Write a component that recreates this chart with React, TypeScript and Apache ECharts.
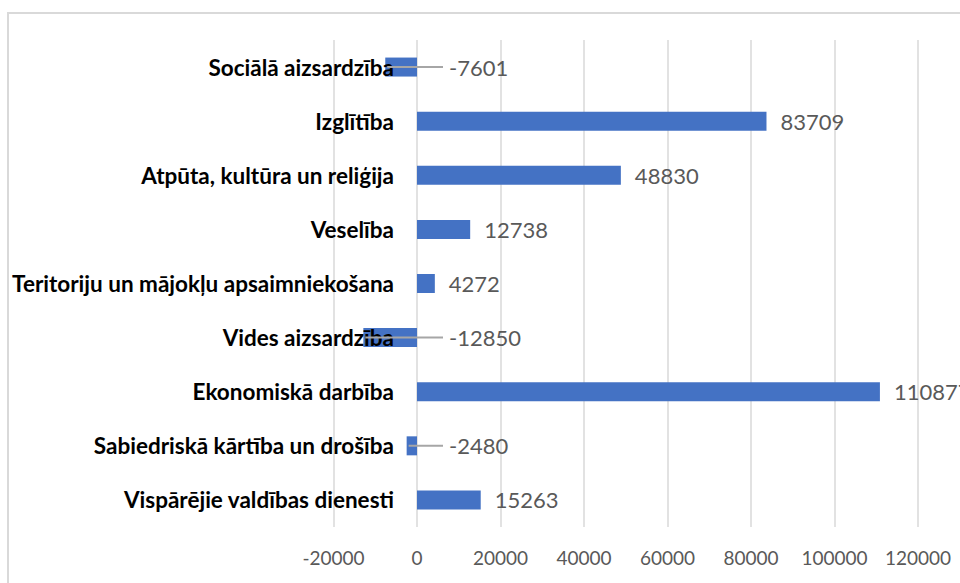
import React, { useEffect, useRef } from "react";
import * as echarts from "echarts";

const categories = [
  "Sociālā aizsardzība",
  "Izglītība",
  "Atpūta, kultūra un reliģija",
  "Veselība",
  "Teritoriju un mājokļu apsaimniekošana",
  "Vides aizsardzība",
  "Ekonomiskā darbība",
  "Sabiedriskā kārtība un drošība",
  "Vispārējie valdības dienesti",
];
const values = [-7601, 83709, 48830, 12738, 4272, -12850, 110877, -2480, 15263];
const axisMin = -20000;
const axisMax = 140000;
const axisStep = 20000;

const BAR_COLOR = "#4472C4";
const TEXT_GRAY = "#595959";
const GRID_GRAY = "#d9d9d9";

const GRID_LEFT = 333.5;
const GRID_WIDTH = 668;

export default function App() {
  const ref = useRef<HTMLDivElement>(null);
  useEffect(() => {
    if (!ref.current) return;
    const chart = echarts.init(ref.current, null, { renderer: "svg" });
    const negatives = values
      .map((v, i) => [v, i])
      .filter((d) => d[0] < 0);
    // distance from the grid's left edge to the value 0, so category labels sit next to zero
    const zeroOffset = ((0 - axisMin) / (axisMax - axisMin)) * GRID_WIDTH;
    chart.setOption({
      animation: false,
      backgroundColor: "#fff",
      graphic: [
        {
          type: "rect",
          shape: { x: 0, y: 0, width: 9, height: 583 },
          style: { fill: "#fff" },
          z: 100,
          silent: true,
        },
        {
          type: "rect",
          shape: { x: 8, y: 13, width: 1200, height: 1000 },
          style: { fill: "none", stroke: GRID_GRAY, lineWidth: 2 },
          z: 101,
          silent: true,
        },
      ],
      grid: {
        left: GRID_LEFT,
        top: 40,
        width: GRID_WIDTH,
        height: 487,
        containLabel: false,
        outerBoundsMode: "none",
      },
      xAxis: {
        type: "value",
        min: axisMin,
        max: axisMax,
        interval: axisStep,
        axisLine: { show: false },
        axisTick: { show: false },
        splitLine: { show: true, lineStyle: { color: GRID_GRAY, width: 1.5 } },
        axisLabel: {
          color: TEXT_GRAY,
          fontFamily: "Lato",
          fontSize: 19,
          margin: 21,
          showMaxLabel: false,
          formatter: (v: number) => String(v),
        },
      },
      yAxis: {
        type: "category",
        inverse: true,
        data: categories,
        z: 10,
        axisLine: { show: false },
        axisTick: { show: false },
        splitLine: { show: false },
        axisLabel: {
          color: "#000",
          fontFamily: "Lato",
          fontWeight: "bold",
          fontSize: 22.5,
          margin: 23 - zeroOffset,
        },
      },
      series: [
        {
          type: "bar",
          barWidth: 19,
          data: values.map((v) => ({ value: v, label: { show: v >= 0 } })),
          itemStyle: { color: BAR_COLOR },
          label: {
            show: true,
            position: "right",
            distance: 14,
            color: TEXT_GRAY,
            fontFamily: "Lato",
            fontSize: 22,
          },
          z: 2,
        },
        {
          type: "custom",
          data: negatives,
          encode: { x: 0, y: 1 },
          z: 20,
          renderItem: (params: any, api: any) => {
            const v = api.value(0);
            const c = api.value(1);
            const end = api.coord([v, c]);
            const zero = api.coord([0, c]);
            return {
              type: "group",
              children: [
                {
                  type: "line",
                  shape: { x1: end[0] + 2, y1: end[1], x2: zero[0] + 26, y2: zero[1] },
                  style: { stroke: "#a6a6a6", lineWidth: 2 },
                },
                {
                  type: "text",
                  style: {
                    text: String(v),
                    x: zero[0] + 32,
                    y: zero[1],
                    align: "left",
                    verticalAlign: "middle",
                    fill: TEXT_GRAY,
                    font: "22px Lato",
                  },
                },
              ],
            };
          },
        },
      ],
    });
    return () => chart.dispose();
  }, []);
  return (
    <div
      ref={ref}
      style={{ position: "fixed", left: 0, top: 0, width: 960, height: 583, background: "#fff" }}
    />
  );
}
